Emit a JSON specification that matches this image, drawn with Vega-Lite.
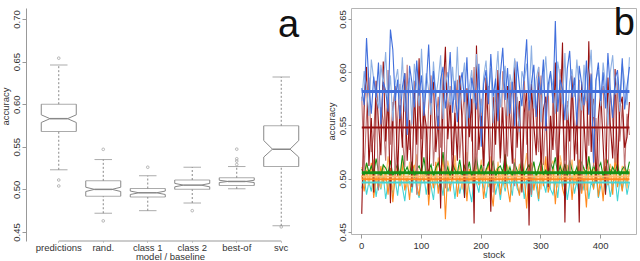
{
"$schema": "https://vega.github.io/schema/vega-lite/v6.json",
"padding": {"left": 0, "top": 4, "right": 0, "bottom": 0},
"background": "white",
"spacing": 11,
"config": {
  "font": "Liberation Sans",
  "axis": {"labelFontSize": 9.5, "labelColor": "#333", "titleFontSize": 9.5, "titleFontWeight": "normal", "titleColor": "#333", "tickColor": "#999", "domainColor": "#999", "grid": false, "labelFont": "Liberation Sans", "titleFont": "Liberation Sans"}
},
"datasets": {
  "box": [
    {"model": "predictions", "lo": 0.523, "q1": 0.568, "nlo": 0.5785, "med": 0.583, "nhi": 0.5875, "q3": 0.600, "hi": 0.646},
    {"model": "rand.", "lo": 0.472, "q1": 0.492, "nlo": 0.4975, "med": 0.500, "nhi": 0.5025, "q3": 0.510, "hi": 0.535},
    {"model": "class 1", "lo": 0.475, "q1": 0.491, "nlo": 0.494, "med": 0.496, "nhi": 0.498, "q3": 0.501, "hi": 0.516},
    {"model": "class 2", "lo": 0.484, "q1": 0.500, "nlo": 0.503, "med": 0.505, "nhi": 0.507, "q3": 0.511, "hi": 0.526},
    {"model": "best-of", "lo": 0.5007, "q1": 0.5046, "nlo": 0.508, "med": 0.5093, "nhi": 0.5107, "q3": 0.5136, "hi": 0.5268},
    {"model": "svc", "lo": 0.4573, "q1": 0.5268, "nlo": 0.5379, "med": 0.5472, "nhi": 0.5573, "q3": 0.5746, "hi": 0.632}
  ],
  "outliers": [
    {"model": "predictions", "acc": 0.654}, {"model": "predictions", "acc": 0.511}, {"model": "predictions", "acc": 0.504},
    {"model": "rand.", "acc": 0.547}, {"model": "rand.", "acc": 0.463},
    {"model": "class 1", "acc": 0.526},
    {"model": "class 2", "acc": 0.475},
    {"model": "best-of", "acc": 0.5472}, {"model": "best-of", "acc": 0.5359}, {"model": "best-of", "acc": 0.5332}, {"model": "best-of", "acc": 0.5292},
    {"model": "svc", "acc": 0.456}
  ],
  "means": [
    {"model": "pred", "acc": 0.582}, {"model": "svc", "acc": 0.548}, {"model": "best", "acc": 0.5055},
    {"model": "class2", "acc": 0.5022}, {"model": "rand", "acc": 0.4995}, {"model": "class1", "acc": 0.4965}
  ],
  "stocks": [
{"stock":1,"pred":0.585,"pred2":0.573,"svc":0.467,"svc2":0.577,"rand":0.503,"class1":0.491,"class2":0.511,"best":0.509},
{"stock":5,"pred":0.569,"pred2":0.601,"svc":0.567,"svc2":0.507,"rand":0.488,"class1":0.501,"class2":0.500,"best":0.503},
{"stock":9,"pred":0.632,"pred2":0.586,"svc":0.605,"svc2":0.559,"rand":0.508,"class1":0.485,"class2":0.515,"best":0.515},
{"stock":13,"pred":0.589,"pred2":0.559,"svc":0.512,"svc2":0.595,"rand":0.495,"class1":0.497,"class2":0.494,"best":0.506},
{"stock":17,"pred":0.561,"pred2":0.612,"svc":0.557,"svc2":0.525,"rand":0.515,"class1":0.488,"class2":0.507,"best":0.512},
{"stock":21,"pred":0.596,"pred2":0.593,"svc":0.487,"svc2":0.542,"rand":0.482,"class1":0.504,"class2":0.518,"best":0.504},
{"stock":25,"pred":0.576,"pred2":0.578,"svc":0.592,"svc2":0.585,"rand":0.502,"class1":0.483,"class2":0.497,"best":0.519},
{"stock":29,"pred":0.609,"pred2":0.566,"svc":0.552,"svc2":0.489,"rand":0.491,"class1":0.498,"class2":0.505,"best":0.507},
{"stock":33,"pred":0.551,"pred2":0.607,"svc":0.522,"svc2":0.567,"rand":0.512,"class1":0.490,"class2":0.491,"best":0.502},
{"stock":37,"pred":0.591,"pred2":0.588,"svc":0.610,"svc2":0.555,"rand":0.496,"class1":0.503,"class2":0.513,"best":0.513},
{"stock":41,"pred":0.583,"pred2":0.619,"svc":0.535,"svc2":0.517,"rand":0.506,"class1":0.481,"class2":0.498,"best":0.510},
{"stock":45,"pred":0.563,"pred2":0.570,"svc":0.577,"svc2":0.602,"rand":0.485,"class1":0.496,"class2":0.521,"best":0.505},
{"stock":49,"pred":0.640,"pred2":0.597,"svc":0.477,"svc2":0.532,"rand":0.510,"class1":0.502,"class2":0.501,"best":0.517},
{"stock":53,"pred":0.621,"pred2":0.554,"svc":0.562,"svc2":0.572,"rand":0.478,"class1":0.486,"class2":0.489,"best":0.503},
{"stock":57,"pred":0.573,"pred2":0.590,"svc":0.587,"svc2":0.499,"rand":0.504,"class1":0.499,"class2":0.512,"best":0.508},
{"stock":61,"pred":0.593,"pred2":0.603,"svc":0.502,"svc2":0.557,"rand":0.509,"class1":0.484,"class2":0.506,"best":0.514},
{"stock":65,"pred":0.556,"pred2":0.575,"svc":0.569,"svc2":0.589,"rand":0.493,"class1":0.505,"class2":0.495,"best":0.502},
{"stock":69,"pred":0.586,"pred2":0.614,"svc":0.529,"svc2":0.539,"rand":0.514,"class1":0.492,"class2":0.519,"best":0.522},
{"stock":73,"pred":0.599,"pred2":0.563,"svc":0.599,"svc2":0.511,"rand":0.489,"class1":0.479,"class2":0.502,"best":0.506},
{"stock":77,"pred":0.541,"pred2":0.584,"svc":0.517,"svc2":0.607,"rand":0.501,"class1":0.500,"class2":0.492,"best":0.511},
{"stock":81,"pred":0.606,"pred2":0.595,"svc":0.555,"svc2":0.527,"rand":0.480,"class1":0.497,"class2":0.516,"best":0.504},
{"stock":85,"pred":0.590,"pred2":0.551,"svc":0.492,"svc2":0.562,"rand":0.507,"class1":0.487,"class2":0.496,"best":0.516},
{"stock":89,"pred":0.567,"pred2":0.608,"svc":0.582,"svc2":0.592,"rand":0.513,"class1":0.506,"class2":0.507,"best":0.501},
{"stock":93,"pred":0.611,"pred2":0.587,"svc":0.532,"svc2":0.485,"rand":0.494,"class1":0.489,"class2":0.523,"best":0.509},
{"stock":97,"pred":0.578,"pred2":0.568,"svc":0.613,"svc2":0.575,"rand":0.484,"class1":0.482,"class2":0.493,"best":0.512},
{"stock":101,"pred":0.597,"pred2":0.622,"svc":0.507,"svc2":0.537,"rand":0.511,"class1":0.499,"class2":0.509,"best":0.505},
{"stock":105,"pred":0.559,"pred2":0.572,"svc":0.565,"svc2":0.583,"rand":0.497,"class1":0.503,"class2":0.499,"best":0.520},
{"stock":109,"pred":0.588,"pred2":0.599,"svc":0.549,"svc2":0.503,"rand":0.518,"class1":0.485,"class2":0.514,"best":0.503},
{"stock":113,"pred":0.626,"pred2":0.583,"svc":0.485,"svc2":0.569,"rand":0.475,"class1":0.501,"class2":0.488,"best":0.508},
{"stock":117,"pred":0.571,"pred2":0.560,"svc":0.575,"svc2":0.597,"rand":0.505,"class1":0.493,"class2":0.510,"best":0.513},
{"stock":121,"pred":0.601,"pred2":0.610,"svc":0.591,"svc2":0.512,"rand":0.491,"class1":0.480,"class2":0.504,"best":0.502},
{"stock":125,"pred":0.575,"pred2":0.577,"svc":0.525,"svc2":0.552,"rand":0.516,"class1":0.504,"class2":0.494,"best":0.510},
{"stock":129,"pred":0.546,"pred2":0.592,"svc":0.559,"svc2":0.577,"rand":0.486,"class1":0.491,"class2":0.520,"best":0.515},
{"stock":133,"pred":0.593,"pred2":0.616,"svc":0.472,"svc2":0.529,"rand":0.502,"class1":0.498,"class2":0.500,"best":0.506},
{"stock":137,"pred":0.605,"pred2":0.556,"svc":0.580,"svc2":0.599,"rand":0.520,"class1":0.484,"class2":0.511,"best":0.525},
{"stock":141,"pred":0.566,"pred2":0.589,"svc":0.624,"svc2":0.491,"rand":0.462,"class1":0.507,"class2":0.491,"best":0.504},
{"stock":145,"pred":0.584,"pred2":0.600,"svc":0.537,"svc2":0.561,"rand":0.508,"class1":0.488,"class2":0.517,"best":0.511},
{"stock":149,"pred":0.619,"pred2":0.569,"svc":0.572,"svc2":0.587,"rand":0.488,"class1":0.494,"class2":0.505,"best":0.501},
{"stock":153,"pred":0.562,"pred2":0.605,"svc":0.499,"svc2":0.522,"rand":0.506,"class1":0.500,"class2":0.497,"best":0.514},
{"stock":157,"pred":0.592,"pred2":0.574,"svc":0.562,"svc2":0.565,"rand":0.515,"class1":0.481,"class2":0.522,"best":0.508},
{"stock":161,"pred":0.553,"pred2":0.624,"svc":0.517,"svc2":0.593,"rand":0.483,"class1":0.502,"class2":0.499,"best":0.505},
{"stock":165,"pred":0.587,"pred2":0.565,"svc":0.597,"svc2":0.519,"rand":0.503,"class1":0.486,"class2":0.513,"best":0.518},
{"stock":169,"pred":0.600,"pred2":0.591,"svc":0.552,"svc2":0.556,"rand":0.492,"class1":0.497,"class2":0.490,"best":0.503},
{"stock":173,"pred":0.572,"pred2":0.609,"svc":0.482,"svc2":0.581,"rand":0.512,"class1":0.483,"class2":0.508,"best":0.512},
{"stock":177,"pred":0.614,"pred2":0.547,"svc":0.585,"svc2":0.497,"rand":0.479,"class1":0.505,"class2":0.525,"best":0.506},
{"stock":181,"pred":0.557,"pred2":0.586,"svc":0.539,"svc2":0.567,"rand":0.509,"class1":0.490,"class2":0.495,"best":0.516},
{"stock":185,"pred":0.595,"pred2":0.602,"svc":0.575,"svc2":0.535,"rand":0.501,"class1":0.478,"class2":0.506,"best":0.502},
{"stock":189,"pred":0.582,"pred2":0.571,"svc":0.458,"svc2":0.605,"rand":0.487,"class1":0.501,"class2":0.493,"best":0.509},
{"stock":193,"pred":0.565,"pred2":0.617,"svc":0.625,"svc2":0.509,"rand":0.517,"class1":0.496,"class2":0.515,"best":0.521},
{"stock":197,"pred":0.608,"pred2":0.582,"svc":0.527,"svc2":0.553,"rand":0.494,"class1":0.487,"class2":0.501,"best":0.504},
{"stock":201,"pred":0.530,"pred2":0.562,"svc":0.559,"svc2":0.575,"rand":0.510,"class1":0.506,"class2":0.518,"best":0.513},
{"stock":205,"pred":0.589,"pred2":0.596,"svc":0.512,"svc2":0.501,"rand":0.481,"class1":0.492,"class2":0.497,"best":0.503},
{"stock":209,"pred":0.602,"pred2":0.611,"svc":0.595,"svc2":0.563,"rand":0.504,"class1":0.482,"class2":0.510,"best":0.508},
{"stock":213,"pred":0.570,"pred2":0.576,"svc":0.549,"svc2":0.587,"rand":0.514,"class1":0.500,"class2":0.492,"best":0.515},
{"stock":217,"pred":0.617,"pred2":0.604,"svc":0.469,"svc2":0.527,"rand":0.490,"class1":0.489,"class2":0.521,"best":0.505},
{"stock":221,"pred":0.577,"pred2":0.552,"svc":0.577,"svc2":0.487,"rand":0.474,"class1":0.504,"class2":0.504,"best":0.517},
{"stock":225,"pred":0.594,"pred2":0.593,"svc":0.532,"svc2":0.582,"rand":0.507,"class1":0.485,"class2":0.494,"best":0.501},
{"stock":229,"pred":0.554,"pred2":0.620,"svc":0.602,"svc2":0.557,"rand":0.511,"class1":0.497,"class2":0.516,"best":0.510},
{"stock":233,"pred":0.598,"pred2":0.567,"svc":0.519,"svc2":0.515,"rand":0.485,"class1":0.480,"class2":0.500,"best":0.512},
{"stock":237,"pred":0.623,"pred2":0.588,"svc":0.567,"svc2":0.601,"rand":0.503,"class1":0.499,"class2":0.509,"best":0.506},
{"stock":241,"pred":0.574,"pred2":0.606,"svc":0.495,"svc2":0.565,"rand":0.519,"class1":0.488,"class2":0.491,"best":0.523},
{"stock":245,"pred":0.604,"pred2":0.559,"svc":0.587,"svc2":0.521,"rand":0.492,"class1":0.503,"class2":0.512,"best":0.504},
{"stock":249,"pred":0.561,"pred2":0.598,"svc":0.556,"svc2":0.591,"rand":0.478,"class1":0.496,"class2":0.507,"best":0.511},
{"stock":253,"pred":0.591,"pred2":0.585,"svc":0.514,"svc2":0.539,"rand":0.506,"class1":0.484,"class2":0.496,"best":0.502},
{"stock":257,"pred":0.549,"pred2":0.613,"svc":0.611,"svc2":0.493,"rand":0.513,"class1":0.508,"class2":0.519,"best":0.514},
{"stock":261,"pred":0.610,"pred2":0.572,"svc":0.529,"svc2":0.577,"rand":0.496,"class1":0.491,"class2":0.502,"best":0.508},
{"stock":265,"pred":0.586,"pred2":0.544,"svc":0.573,"svc2":0.559,"rand":0.484,"class1":0.486,"class2":0.514,"best":0.505},
{"stock":269,"pred":0.568,"pred2":0.601,"svc":0.487,"svc2":0.507,"rand":0.509,"class1":0.501,"class2":0.489,"best":0.519},
{"stock":273,"pred":0.599,"pred2":0.592,"svc":0.562,"svc2":0.595,"rand":0.502,"class1":0.481,"class2":0.508,"best":0.503},
{"stock":277,"pred":0.631,"pred2":0.608,"svc":0.582,"svc2":0.532,"rand":0.472,"class1":0.498,"class2":0.524,"best":0.509},
{"stock":281,"pred":0.564,"pred2":0.575,"svc":0.456,"svc2":0.572,"rand":0.508,"class1":0.500,"class2":0.495,"best":0.513},
{"stock":285,"pred":0.590,"pred2":0.625,"svc":0.589,"svc2":0.485,"rand":0.515,"class1":0.483,"class2":0.506,"best":0.506},
{"stock":289,"pred":0.607,"pred2":0.566,"svc":0.550,"svc2":0.583,"rand":0.489,"class1":0.504,"class2":0.515,"best":0.516},
{"stock":293,"pred":0.558,"pred2":0.594,"svc":0.522,"svc2":0.555,"rand":0.505,"class1":0.493,"class2":0.498,"best":0.502},
{"stock":297,"pred":0.596,"pred2":0.605,"svc":0.605,"svc2":0.525,"rand":0.481,"class1":0.479,"class2":0.512,"best":0.510},
{"stock":301,"pred":0.579,"pred2":0.553,"svc":0.507,"svc2":0.597,"rand":0.512,"class1":0.502,"class2":0.490,"best":0.518},
{"stock":305,"pred":0.612,"pred2":0.590,"svc":0.565,"svc2":0.513,"rand":0.493,"class1":0.497,"class2":0.520,"best":0.504},
{"stock":309,"pred":0.545,"pred2":0.615,"svc":0.577,"svc2":0.563,"rand":0.521,"class1":0.487,"class2":0.505,"best":0.508},
{"stock":313,"pred":0.588,"pred2":0.578,"svc":0.492,"svc2":0.589,"rand":0.487,"class1":0.505,"class2":0.493,"best":0.501},
{"stock":317,"pred":0.601,"pred2":0.599,"svc":0.559,"svc2":0.499,"rand":0.497,"class1":0.490,"class2":0.511,"best":0.515},
{"stock":321,"pred":0.571,"pred2":0.587,"svc":0.527,"svc2":0.579,"rand":0.510,"class1":0.485,"class2":0.517,"best":0.509},
{"stock":325,"pred":0.648,"pred2":0.561,"svc":0.609,"svc2":0.537,"rand":0.476,"class1":0.499,"class2":0.499,"best":0.520},
{"stock":329,"pred":0.563,"pred2":0.610,"svc":0.502,"svc2":0.507,"rand":0.506,"class1":0.482,"class2":0.492,"best":0.503},
{"stock":333,"pred":0.593,"pred2":0.595,"svc":0.555,"svc2":0.603,"rand":0.516,"class1":0.506,"class2":0.522,"best":0.512},
{"stock":337,"pred":0.584,"pred2":0.570,"svc":0.628,"svc2":0.559,"rand":0.491,"class1":0.492,"class2":0.509,"best":0.505},
{"stock":341,"pred":0.555,"pred2":0.618,"svc":0.459,"svc2":0.517,"rand":0.482,"class1":0.501,"class2":0.496,"best":0.514},
{"stock":345,"pred":0.603,"pred2":0.555,"svc":0.569,"svc2":0.573,"rand":0.504,"class1":0.480,"class2":0.513,"best":0.502},
{"stock":349,"pred":0.620,"pred2":0.591,"svc":0.535,"svc2":0.495,"rand":0.513,"class1":0.496,"class2":0.501,"best":0.517},
{"stock":353,"pred":0.576,"pred2":0.603,"svc":0.597,"svc2":0.585,"rand":0.480,"class1":0.503,"class2":0.518,"best":0.508},
{"stock":357,"pred":0.595,"pred2":0.577,"svc":0.517,"svc2":0.551,"rand":0.507,"class1":0.486,"class2":0.494,"best":0.504},
{"stock":361,"pred":0.550,"pred2":0.612,"svc":0.562,"svc2":0.523,"rand":0.495,"class1":0.498,"class2":0.507,"best":0.511},
{"stock":365,"pred":0.606,"pred2":0.584,"svc":0.459,"svc2":0.593,"rand":0.518,"class1":0.484,"class2":0.515,"best":0.501},
{"stock":369,"pred":0.589,"pred2":0.564,"svc":0.591,"svc2":0.489,"rand":0.486,"class1":0.502,"class2":0.497,"best":0.516},
{"stock":373,"pred":0.569,"pred2":0.607,"svc":0.553,"svc2":0.567,"rand":0.501,"class1":0.489,"class2":0.511,"best":0.509},
{"stock":377,"pred":0.611,"pred2":0.573,"svc":0.509,"svc2":0.581,"rand":0.473,"class1":0.507,"class2":0.489,"best":0.506},
{"stock":381,"pred":0.560,"pred2":0.597,"svc":0.629,"svc2":0.531,"rand":0.511,"class1":0.481,"class2":0.521,"best":0.521},
{"stock":385,"pred":0.598,"pred2":0.621,"svc":0.525,"svc2":0.599,"rand":0.508,"class1":0.497,"class2":0.500,"best":0.503},
{"stock":389,"pred":0.515,"pred2":0.558,"svc":0.575,"svc2":0.511,"rand":0.490,"class1":0.491,"class2":0.510,"best":0.513},
{"stock":393,"pred":0.592,"pred2":0.593,"svc":0.497,"svc2":0.557,"rand":0.515,"class1":0.504,"class2":0.502,"best":0.505},
{"stock":397,"pred":0.609,"pred2":0.602,"svc":0.557,"svc2":0.503,"rand":0.483,"class1":0.482,"class2":0.516,"best":0.510},
{"stock":401,"pred":0.573,"pred2":0.568,"svc":0.582,"svc2":0.575,"rand":0.503,"class1":0.493,"class2":0.493,"best":0.515},
{"stock":405,"pred":0.600,"pred2":0.609,"svc":0.532,"svc2":0.587,"rand":0.479,"class1":0.505,"class2":0.508,"best":0.502},
{"stock":409,"pred":0.566,"pred2":0.588,"svc":0.485,"svc2":0.527,"rand":0.512,"class1":0.487,"class2":0.519,"best":0.508},
{"stock":413,"pred":0.618,"pred2":0.550,"svc":0.595,"svc2":0.497,"rand":0.494,"class1":0.500,"class2":0.495,"best":0.518},
{"stock":417,"pred":0.583,"pred2":0.600,"svc":0.551,"svc2":0.583,"rand":0.509,"class1":0.483,"class2":0.514,"best":0.504},
{"stock":421,"pred":0.557,"pred2":0.616,"svc":0.519,"svc2":0.553,"rand":0.485,"class1":0.496,"class2":0.505,"best":0.511},
{"stock":425,"pred":0.594,"pred2":0.579,"svc":0.603,"svc2":0.515,"rand":0.520,"class1":0.502,"class2":0.498,"best":0.506},
{"stock":429,"pred":0.602,"pred2":0.596,"svc":0.505,"svc2":0.591,"rand":0.492,"class1":0.479,"class2":0.523,"best":0.514},
{"stock":433,"pred":0.572,"pred2":0.563,"svc":0.567,"svc2":0.535,"rand":0.505,"class1":0.499,"class2":0.496,"best":0.501},
{"stock":437,"pred":0.613,"pred2":0.608,"svc":0.577,"svc2":0.569,"rand":0.488,"class1":0.489,"class2":0.512,"best":0.509},
{"stock":441,"pred":0.565,"pred2":0.590,"svc":0.529,"svc2":0.509,"rand":0.514,"class1":0.503,"class2":0.506,"best":0.512},
{"stock":445,"pred":0.587,"pred2":0.569,"svc":0.539,"svc2":0.561,"rand":0.496,"class1":0.485,"class2":0.491,"best":0.505},
{"stock":449,"pred":0.605,"pred2":0.614,"svc":0.572,"svc2":0.541,"rand":0.506,"class1":0.497,"class2":0.509,"best":0.516}
  ]
},
"hconcat": [
  {
    "width": 288, "height": 233,
    "view": {"stroke": null},
    "data": {"name": "box"},
    "encoding": {
      "x": {"field": "model", "type": "nominal", "sort": ["predictions", "rand.", "class 1", "class 2", "best-of", "svc"], "bandPosition": 0.5,
            "scale": {"paddingInner": 0, "paddingOuter": 0.236},
            "axis": {"title": "model / baseline", "labelAngle": 0, "domain": false, "tickSize": 1, "labelPadding": 0, "titlePadding": 0}}
    },
    "layer": [
      {"mark": {"type": "rule", "color": "#888", "strokeDash": [2, 2]},
       "encoding": {"y": {"field": "q3", "type": "quantitative", "title": "accuracy",
                          "scale": {"domain": [0.4394, 0.7129], "nice": false, "zero": false},
                          "axis": {"title": "accuracy", "titleY": 98, "values": [0.45, 0.5, 0.55, 0.6, 0.65, 0.7], "format": ".2f", "labelAngle": -90, "labelAlign": "center", "labelBaseline": "bottom", "tickSize": 4, "labelPadding": 1, "titlePadding": 1}},
                    "y2": {"field": "hi"}}},
      {"mark": {"type": "rule", "color": "#888", "strokeDash": [2, 2]},
       "encoding": {"y": {"field": "lo", "type": "quantitative", "title": "accuracy"}, "y2": {"field": "q1"}}},
      {"mark": {"type": "tick", "color": "#888", "size": 17.5, "thickness": 1},
       "encoding": {"y": {"field": "hi", "type": "quantitative", "title": "accuracy"}}},
      {"mark": {"type": "tick", "color": "#888", "size": 17.5, "thickness": 1},
       "encoding": {"y": {"field": "lo", "type": "quantitative", "title": "accuracy"}}},
      {"mark": {"type": "tick", "color": "#888", "size": 35, "thickness": 1},
       "encoding": {"y": {"field": "q3", "type": "quantitative", "title": "accuracy"}}},
      {"mark": {"type": "tick", "color": "#888", "size": 35, "thickness": 1},
       "encoding": {"y": {"field": "q1", "type": "quantitative", "title": "accuracy"}}},
      {"mark": {"type": "rule", "color": "#888", "xOffset": -17.5},
       "encoding": {"y": {"field": "q3", "type": "quantitative", "title": "accuracy"}, "y2": {"field": "nhi"}}},
      {"mark": {"type": "rule", "color": "#888", "xOffset": -17.5},
       "encoding": {"y": {"field": "nlo", "type": "quantitative", "title": "accuracy"}, "y2": {"field": "q1"}}},
      {"mark": {"type": "rule", "color": "#888", "xOffset": 17.5},
       "encoding": {"y": {"field": "q3", "type": "quantitative", "title": "accuracy"}, "y2": {"field": "nhi"}}},
      {"mark": {"type": "rule", "color": "#888", "xOffset": 17.5},
       "encoding": {"y": {"field": "nlo", "type": "quantitative", "title": "accuracy"}, "y2": {"field": "q1"}}},
      {"mark": {"type": "rule", "color": "#888", "xOffset": -17.5, "x2Offset": -8.75},
       "encoding": {"x2": {"field": "model", "bandPosition": 0.5}, "y": {"field": "nhi", "type": "quantitative", "title": "accuracy"}, "y2": {"field": "med"}}},
      {"mark": {"type": "rule", "color": "#888", "xOffset": -17.5, "x2Offset": -8.75},
       "encoding": {"x2": {"field": "model", "bandPosition": 0.5}, "y": {"field": "nlo", "type": "quantitative", "title": "accuracy"}, "y2": {"field": "med"}}},
      {"mark": {"type": "rule", "color": "#888", "xOffset": 17.5, "x2Offset": 8.75},
       "encoding": {"x2": {"field": "model", "bandPosition": 0.5}, "y": {"field": "nhi", "type": "quantitative", "title": "accuracy"}, "y2": {"field": "med"}}},
      {"mark": {"type": "rule", "color": "#888", "xOffset": 17.5, "x2Offset": 8.75},
       "encoding": {"x2": {"field": "model", "bandPosition": 0.5}, "y": {"field": "nlo", "type": "quantitative", "title": "accuracy"}, "y2": {"field": "med"}}},
      {"mark": {"type": "tick", "color": "#555", "size": 17.5, "thickness": 1.5},
       "encoding": {"y": {"field": "med", "type": "quantitative", "title": "accuracy"}}},
      {"data": {"name": "outliers"},
       "mark": {"type": "point", "filled": false, "color": "#999", "size": 7, "strokeWidth": 1},
       "encoding": {"y": {"field": "acc", "type": "quantitative", "title": "accuracy"}}},
      {"data": {"values": [{}]},
       "mark": {"type": "rule", "color": "#999"},
       "encoding": {"x": {"datum": "predictions", "bandPosition": 0.5}, "x2": {"datum": "svc", "bandPosition": 0.5}, "y": {"datum": 0.4394, "type": "quantitative"}}},
      {"data": {"values": [{}]},
       "mark": {"type": "text", "text": "a", "fontSize": 38, "font": "Liberation Sans", "align": "right", "baseline": "alphabetic", "color": "#111", "dx": 18},
       "encoding": {"x": {"datum": "svc"}, "y": {"datum": 0.679, "type": "quantitative"}}}
    ]
  },
  {
    "width": 285, "height": 226,
    "view": {"stroke": "#b5b5b5"},
    "layer": [
      {"data": {"name": "stocks"},
       "transform": [{"fold": ["class1", "rand", "class2", "best", "svc2", "svc", "pred2", "pred"], "as": ["model", "acc"]}],
       "mark": {"type": "line", "strokeWidth": 1.1},
       "encoding": {
         "x": {"field": "stock", "type": "quantitative", "scale": {"domain": [-17, 460], "nice": false, "zero": false},
               "axis": {"title": "stock", "values": [0, 100, 200, 300, 400], "domain": false, "tickSize": 4, "labelPadding": 2, "titlePadding": 0}},
         "y": {"field": "acc", "type": "quantitative", "title": "accuracy", "scale": {"domain": [0.4481, 0.6603], "nice": false, "zero": false},
               "axis": {"title": "accuracy", "values": [0.45, 0.5, 0.55, 0.6, 0.65], "format": ".2f", "domain": false, "labelAngle": -90, "labelAlign": "center", "labelBaseline": "bottom", "tickSize": 3, "labelPadding": 1, "titlePadding": 1}},
         "color": {"field": "model", "type": "nominal", "legend": null,
                   "scale": {"domain": ["class1", "rand", "class2", "best", "svc2", "svc", "pred2", "pred"],
                             "range": ["#44d4d4", "#ff8a1f", "#ffbb66", "#159015", "#c07575", "#961010", "#8fb1e3", "#416fdc"]}}
       }},
      {"data": {"name": "means"},
       "transform": [{"filter": "datum.model != 'pred' && datum.model != 'best'"}],
       "mark": {"type": "rule", "strokeWidth": 2},
       "encoding": {"x": {"datum": 1}, "x2": {"datum": 449}, "y": {"field": "acc", "type": "quantitative", "title": "accuracy"}, "color": {"field": "model", "type": "nominal"}}},
      {"data": {"name": "means"},
       "transform": [{"filter": "datum.model == 'pred' || datum.model == 'best'"}],
       "mark": {"type": "rule", "strokeWidth": 3},
       "encoding": {"x": {"datum": 1}, "x2": {"datum": 449}, "y": {"field": "acc", "type": "quantitative", "title": "accuracy"}, "color": {"field": "model", "type": "nominal"}}},
      {"data": {"values": [{}]},
       "mark": {"type": "text", "text": "b", "fontSize": 38, "font": "Liberation Sans", "align": "right", "baseline": "alphabetic", "color": "#111"},
       "encoding": {"x": {"datum": 458}, "y": {"datum": 0.635}}}
    ]
  }
]
}
